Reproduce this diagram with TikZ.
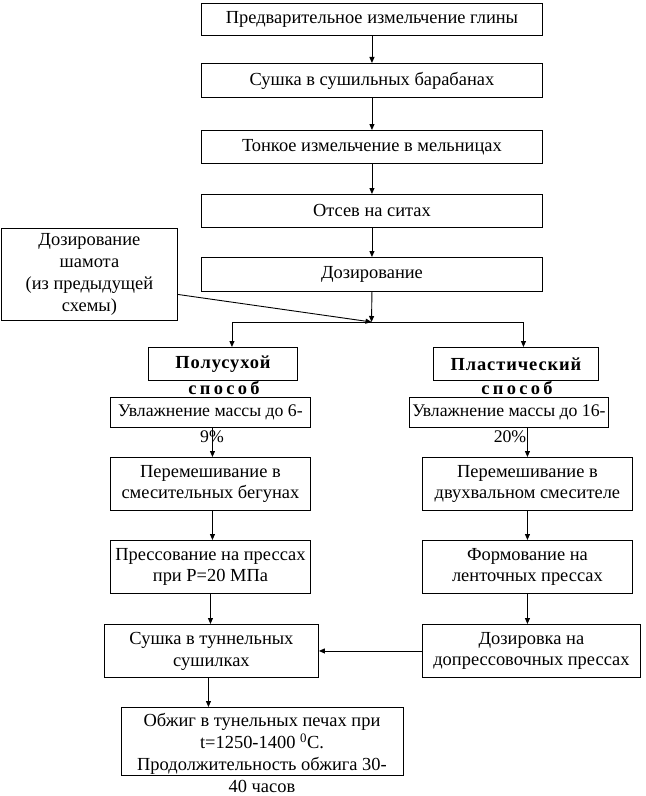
\documentclass[tikz,border=0pt]{standalone}
\usepackage{fontspec}
\setmainfont{Liberation Serif}
\usetikzlibrary{arrows.meta}
\begin{document}
\begin{tikzpicture}[x=1bp,y=-1bp,
  every node/.append style={font=\fontsize{18.5}{22}\selectfont},
  box/.style={draw, line width=0.9bp, inner sep=0pt, align=center, anchor=north west},
  txt/.style={inner sep=0pt, align=center},
  bsp/.style={font=\fontsize{18.5}{22}\selectfont\bfseries\addfontfeature{LetterSpace=5}},
  wsp/.style={font=\fontsize{18.5}{22}\selectfont\bfseries\addfontfeature{LetterSpace=18}},
  sm/.style={font=\fontsize{17.8}{22}\selectfont},
  arr/.style={line width=0.9bp, -{Triangle[length=6bp,width=5bp]}}]
\useasboundingbox (0,0) rectangle (646,796);
% main column
\node[box, minimum width=341bp, minimum height=32bp] (b1) at (201,3) {Предварительное измельчение глины};
\node[box, minimum width=341bp, minimum height=34bp] (b2) at (201,63) {Сушка в сушильных барабанах};
\node[box, minimum width=341bp, minimum height=33bp] (b3) at (201,130) {Тонкое измельчение в мельницах};
\node[box, minimum width=341bp, minimum height=33bp] (b4) at (201,194) {Отсев на ситах};
\node[box, minimum width=341bp, minimum height=34bp] (b5) at (201,257) {Дозирование};
\node[box, minimum width=176bp, minimum height=92bp] (lb) at (1,228) {Дозирование\\шамота\\(из предыдущей\\схемы)};
% branches
\node[box, bsp, minimum width=149bp, minimum height=33bp] (ps) at (148,347) {Полусухой};
\node[txt, wsp] (pst) at (224,388) {способ};
\node[box, bsp, minimum width=165bp, minimum height=33bp] (pl) at (433,347) {Пластический};
\node[txt, wsp] (plt) at (517,388) {способ};
\node[box, sm, minimum width=200bp, minimum height=30bp] (u1) at (110,397) {Увлажнение массы до 6-};
\node[txt, sm] (u1t) at (212,437) {9\%};
\node[box, sm, minimum width=199bp, minimum height=30bp] (u2) at (409,397) {Увлажнение массы до 16-};
\node[txt, sm] (u2t) at (510,437) {20\%};
\node[box, minimum width=200bp, minimum height=53bp] (m1) at (110,457) {Перемешивание в\\смесительных бегунах};
\node[box, minimum width=210bp, minimum height=53bp] (m2) at (422,457) {Перемешивание в\\двухвальном смесителе};
\node[box, minimum width=200bp, minimum height=53bp] (p1) at (110,540) {Прессование на прессах\\при P=20 МПа};
\node[box, minimum width=210bp, minimum height=53bp] (f2) at (422,540) {Формование на\\ленточных прессах};
\node[box, minimum width=214bp, minimum height=53bp] (s1) at (104,624) {Сушка в туннельных\\сушилках};
\node[box, minimum width=218bp, minimum height=53bp] (d2) at (422,624) {Дозировка на\\допрессовочных прессах};
\node[box, minimum width=282bp, minimum height=68bp] (ob) at (121,707) {};
\node[txt, anchor=north] (obt) at (262,713) {Обжиг в тунельных печах при\\t=1250-1400 \textsuperscript{0}C.\\Продолжительность обжига 30-\\40 часов};
% connectors
\draw[arr] (b1.south) -- (b2.north);
\draw[arr] (b2.south) -- (b3.north);
\draw[arr] (b3.south) -- (b4.north);
\draw[arr] (b4.south) -- (b5.north);
\coordinate (J) at (371.5,322);
\draw[arr] (b5.south) -- (J);
\draw[arr] ([yshift=-20bp]lb.east) -- (J);
\draw[arr] (J) -| ([xshift=9bp]ps.north);
\draw[arr] (J) -| ([xshift=7.5bp]pl.north);
\draw[arr] ([xshift=2bp]u1.south) -- ([xshift=2bp]m1.north);
\draw[arr] (m2.north |- u2.south) -- (m2.north);
\draw[arr] ([xshift=2bp]m1.south) -- ([xshift=2bp]p1.north);
\draw[arr] (m2.south) -- (f2.north);
\draw[arr] (p1.south) -- (p1.south |- s1.north);
\draw[arr] (f2.south) -- (f2.south |- d2.north);
\draw[arr] (d2.west) -- (s1.east);
\draw[arr] ([xshift=-3bp]s1.south) -- ([xshift=-3bp]s1.south |- ob.north);
\end{tikzpicture}
\end{document}
